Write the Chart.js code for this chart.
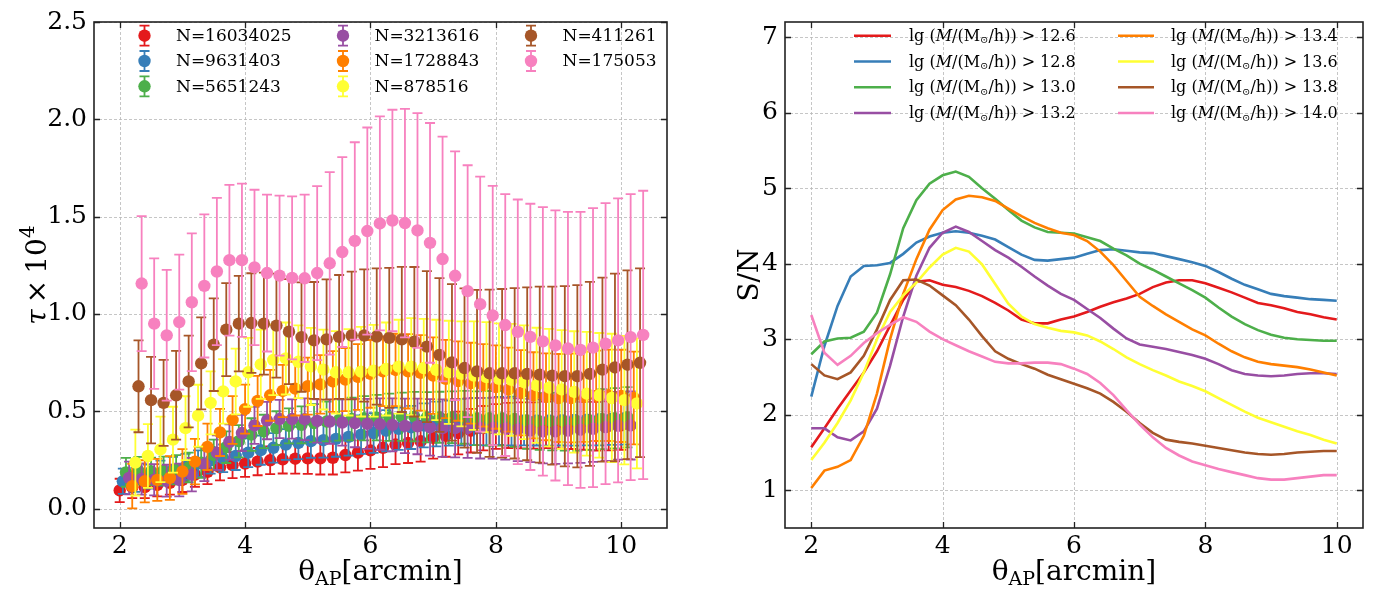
<!DOCTYPE html>
<html>
<head>
<meta charset="utf-8">
<script src="https://cdn.jsdelivr.net/npm/chart.js@4.4.1/dist/chart.umd.min.js"></script>
<style>
  body { margin: 0; background: #fff; }
  #canvas1 { position: absolute; left: 0; top: 0; }
  #canvas2 { position: absolute; left: 700px; top: 0; }
</style>
</head>
<body>
<canvas id="canvas1" width="700" height="593"></canvas>
<canvas id="canvas2" width="692" height="593"></canvas>
<script>
// Data
const theta = [2.0, 2.2, 2.4, 2.6, 2.8, 3.0, 3.2, 3.4, 3.6, 3.8, 4.0, 4.2, 4.4, 4.6, 4.8, 5.0, 5.2, 5.4, 5.6, 5.8,
  6.0, 6.2, 6.4, 6.6, 6.8, 7.0, 7.2, 7.4, 7.6, 7.8, 8.0, 8.2, 8.4, 8.6, 8.8, 9.0, 9.2, 9.4, 9.6, 9.8, 10.0];
const dodge = [0, 0.05, 0.10, 0.15, 0.20, 0.25, 0.30, 0.35]; // sideways shift of each sample on the left plot
const colors = ["#e41a1c", "#377eb8", "#4daf4a", "#984ea3", "#ff7f00", "#ffff33", "#a65628", "#f781bf"];
const nLabels = ["N=16034025", "N=9631403", "N=5651243", "N=3213616", "N=1728843", "N=878516", "N=411261", "N=175053"];
const massCuts = ["12.6", "12.8", "13.0", "13.2", "13.4", "13.6", "13.8", "14.0"];

// tau x 10^4 (left)
const tauRed = [0.093, 0.110, 0.110, 0.121, 0.132, 0.147, 0.174, 0.189, 0.211, 0.223, 0.231, 0.241, 0.248, 0.253, 0.256, 0.258, 0.258, 0.261, 0.275, 0.287,
  0.299, 0.312, 0.329, 0.337, 0.346, 0.363, 0.374, 0.388, 0.400, 0.413, 0.422, 0.427, 0.427, 0.427, 0.430, 0.430, 0.428, 0.425, 0.423, 0.425, 0.428];
const tauBlue = [0.140, 0.148, 0.164, 0.182, 0.199, 0.214, 0.231, 0.248, 0.258, 0.270, 0.287, 0.300, 0.312, 0.329, 0.337, 0.346, 0.351, 0.358, 0.368, 0.380,
  0.388, 0.400, 0.410, 0.417, 0.427, 0.434, 0.439, 0.444, 0.447, 0.447, 0.450, 0.450, 0.452, 0.452, 0.452, 0.454, 0.455, 0.457, 0.459, 0.462, 0.464];
const tauGreen = [0.186, 0.194, 0.191, 0.194, 0.199, 0.211, 0.236, 0.275, 0.315, 0.346, 0.380, 0.396, 0.413, 0.425, 0.430, 0.439, 0.447, 0.455, 0.460, 0.464,
  0.467, 0.469, 0.472, 0.472, 0.469, 0.469, 0.469, 0.469, 0.464, 0.464, 0.464, 0.460, 0.452, 0.447, 0.447, 0.447, 0.447, 0.452, 0.459, 0.464, 0.469];
const tauPurple = [0.157, 0.152, 0.148, 0.143, 0.147, 0.174, 0.228, 0.287, 0.342, 0.388, 0.427, 0.452, 0.460, 0.460, 0.459, 0.450, 0.447, 0.442, 0.439, 0.435,
  0.434, 0.430, 0.425, 0.422, 0.417, 0.413, 0.413, 0.413, 0.413, 0.413, 0.410, 0.405, 0.401, 0.396, 0.396, 0.400, 0.405, 0.410, 0.418, 0.425, 0.427];
const tauOrange = [0.115, 0.140, 0.147, 0.157, 0.190, 0.241, 0.317, 0.391, 0.455, 0.511, 0.553, 0.582, 0.604, 0.616, 0.629, 0.638, 0.653, 0.663, 0.676, 0.692,
  0.705, 0.712, 0.705, 0.697, 0.683, 0.666, 0.655, 0.644, 0.633, 0.624, 0.611, 0.595, 0.582, 0.574, 0.568, 0.568, 0.574, 0.579, 0.582, 0.579, 0.568];
const tauYellow = [0.236, 0.270, 0.304, 0.354, 0.413, 0.477, 0.543, 0.602, 0.653, 0.700, 0.741, 0.764, 0.771, 0.754, 0.730, 0.714, 0.700, 0.700, 0.703, 0.708,
  0.717, 0.729, 0.729, 0.722, 0.712, 0.700, 0.692, 0.683, 0.675, 0.666, 0.661, 0.649, 0.633, 0.621, 0.612, 0.599, 0.590, 0.582, 0.568, 0.557, 0.540];
const tauBrown = [0.628, 0.557, 0.543, 0.582, 0.653, 0.746, 0.842, 0.919, 0.950, 0.953, 0.950, 0.940, 0.909, 0.881, 0.864, 0.869, 0.882, 0.889, 0.889, 0.884,
  0.877, 0.869, 0.857, 0.832, 0.789, 0.751, 0.722, 0.705, 0.695, 0.695, 0.695, 0.692, 0.688, 0.683, 0.680, 0.680, 0.692, 0.714, 0.725, 0.739, 0.749];
const tauPink = [1.156, 0.950, 0.890, 0.958, 1.060, 1.144, 1.218, 1.276, 1.276, 1.239, 1.210, 1.197, 1.185, 1.183, 1.210, 1.260, 1.318, 1.375, 1.426, 1.465,
  1.480, 1.467, 1.429, 1.365, 1.282, 1.196, 1.117, 1.050, 0.992, 0.943, 0.908, 0.882, 0.859, 0.838, 0.822, 0.815, 0.827, 0.847, 0.864, 0.881, 0.892];

// error bars (half length)
const errRed = [0.060, 0.057, 0.057, 0.059, 0.061, 0.062, 0.063, 0.064, 0.066, 0.067, 0.068, 0.070, 0.071, 0.073, 0.077, 0.080, 0.083, 0.086, 0.089, 0.092,
  0.095, 0.099, 0.101, 0.103, 0.105, 0.107, 0.108, 0.110, 0.112, 0.114, 0.115, 0.116, 0.118, 0.119, 0.120, 0.121, 0.122, 0.123, 0.125, 0.126, 0.126];
const errBlue = [0.065, 0.062, 0.062, 0.064, 0.066, 0.067, 0.068, 0.069, 0.071, 0.072, 0.074, 0.075, 0.076, 0.079, 0.083, 0.086, 0.089, 0.092, 0.096, 0.099,
  0.102, 0.106, 0.109, 0.111, 0.113, 0.115, 0.116, 0.119, 0.121, 0.122, 0.123, 0.125, 0.127, 0.128, 0.129, 0.130, 0.132, 0.132, 0.134, 0.135, 0.136];
const errGreen = [0.074, 0.071, 0.071, 0.073, 0.075, 0.076, 0.078, 0.079, 0.081, 0.083, 0.084, 0.086, 0.087, 0.090, 0.095, 0.098, 0.102, 0.106, 0.110, 0.114,
  0.117, 0.121, 0.124, 0.127, 0.129, 0.131, 0.133, 0.136, 0.138, 0.140, 0.141, 0.143, 0.145, 0.146, 0.148, 0.149, 0.151, 0.151, 0.154, 0.155, 0.155];
const errPurple = [0.084, 0.080, 0.080, 0.082, 0.084, 0.086, 0.087, 0.089, 0.091, 0.093, 0.095, 0.096, 0.098, 0.101, 0.107, 0.111, 0.114, 0.119, 0.124, 0.128,
  0.132, 0.136, 0.140, 0.143, 0.145, 0.148, 0.150, 0.153, 0.156, 0.157, 0.159, 0.161, 0.163, 0.164, 0.166, 0.168, 0.170, 0.170, 0.173, 0.174, 0.175];
const errOrange = [0.114, 0.108, 0.108, 0.112, 0.115, 0.117, 0.119, 0.121, 0.123, 0.126, 0.129, 0.131, 0.134, 0.138, 0.146, 0.150, 0.156, 0.162, 0.169, 0.174,
  0.179, 0.186, 0.191, 0.194, 0.197, 0.201, 0.204, 0.208, 0.212, 0.214, 0.216, 0.219, 0.221, 0.223, 0.226, 0.228, 0.231, 0.232, 0.235, 0.237, 0.238];
const errYellow = [0.169, 0.164, 0.168, 0.169, 0.164, 0.159, 0.162, 0.166, 0.169, 0.177, 0.178, 0.181, 0.185, 0.187, 0.198, 0.205, 0.212, 0.222, 0.230, 0.236,
  0.239, 0.241, 0.249, 0.253, 0.258, 0.265, 0.270, 0.279, 0.283, 0.285, 0.288, 0.292, 0.296, 0.302, 0.305, 0.312, 0.318, 0.320, 0.330, 0.330, 0.334];
const errBrown = [0.236, 0.222, 0.221, 0.228, 0.236, 0.236, 0.238, 0.239, 0.245, 0.256, 0.262, 0.267, 0.270, 0.281, 0.300, 0.309, 0.318, 0.328, 0.340, 0.350,
  0.360, 0.373, 0.384, 0.388, 0.395, 0.402, 0.409, 0.419, 0.430, 0.433, 0.438, 0.444, 0.452, 0.457, 0.463, 0.468, 0.473, 0.473, 0.482, 0.485, 0.485];
const errPink = [0.347, 0.335, 0.336, 0.347, 0.354, 0.368, 0.378, 0.387, 0.394, 0.399, 0.403, 0.411, 0.419, 0.430, 0.447, 0.469, 0.488, 0.507, 0.532, 0.550,
  0.569, 0.587, 0.603, 0.616, 0.629, 0.639, 0.647, 0.655, 0.666, 0.673, 0.680, 0.684, 0.690, 0.694, 0.702, 0.709, 0.717, 0.722, 0.730, 0.735, 0.741];

// S/N (right)
const snRed = [1.57, 1.82, 2.08, 2.32, 2.56, 2.84, 3.18, 3.52, 3.76, 3.78, 3.72, 3.69, 3.64, 3.57, 3.48, 3.38, 3.26, 3.21, 3.21, 3.26,
  3.30, 3.36, 3.43, 3.49, 3.54, 3.60, 3.69, 3.75, 3.78, 3.78, 3.74, 3.68, 3.62, 3.55, 3.48, 3.45, 3.41, 3.36, 3.33, 3.29, 3.26];
const snBlue = [2.24, 2.91, 3.44, 3.83, 3.97, 3.98, 4.01, 4.13, 4.28, 4.36, 4.41, 4.43, 4.41, 4.37, 4.32, 4.22, 4.12, 4.05, 4.04, 4.06,
  4.08, 4.13, 4.18, 4.19, 4.17, 4.15, 4.14, 4.10, 4.06, 4.02, 3.97, 3.89, 3.80, 3.72, 3.66, 3.60, 3.57, 3.55, 3.53, 3.52, 3.51];
const snGreen = [2.80, 2.97, 3.01, 3.02, 3.10, 3.35, 3.86, 4.47, 4.84, 5.06, 5.17, 5.22, 5.15, 5.00, 4.86, 4.71, 4.57, 4.48, 4.42, 4.41,
  4.40, 4.35, 4.30, 4.20, 4.11, 4.00, 3.92, 3.83, 3.74, 3.65, 3.55, 3.42, 3.30, 3.20, 3.12, 3.06, 3.02, 3.00, 2.99, 2.98, 2.98];
const snPurple = [1.82, 1.82, 1.70, 1.66, 1.78, 2.08, 2.65, 3.30, 3.84, 4.21, 4.41, 4.49, 4.42, 4.30, 4.18, 4.08, 3.96, 3.83, 3.71, 3.60,
  3.52, 3.40, 3.28, 3.14, 3.01, 2.93, 2.90, 2.87, 2.83, 2.79, 2.74, 2.67, 2.59, 2.54, 2.52, 2.51, 2.52, 2.54, 2.55, 2.55, 2.54];
const snOrange = [1.03, 1.26, 1.31, 1.40, 1.72, 2.28, 3.00, 3.60, 4.06, 4.45, 4.71, 4.85, 4.90, 4.88, 4.83, 4.73, 4.63, 4.54, 4.47, 4.41,
  4.38, 4.30, 4.16, 3.98, 3.77, 3.56, 3.44, 3.33, 3.23, 3.13, 3.05, 2.94, 2.84, 2.76, 2.70, 2.67, 2.65, 2.63, 2.60, 2.56, 2.52];
const snYellow = [1.40, 1.63, 1.89, 2.19, 2.56, 3.00, 3.36, 3.58, 3.75, 3.95, 4.12, 4.21, 4.16, 3.99, 3.73, 3.47, 3.30, 3.20, 3.15, 3.11,
  3.09, 3.05, 2.97, 2.87, 2.76, 2.67, 2.59, 2.52, 2.44, 2.38, 2.31, 2.22, 2.13, 2.04, 1.96, 1.90, 1.84, 1.78, 1.73, 1.67, 1.62];
const snBrown = [2.67, 2.52, 2.47, 2.56, 2.78, 3.13, 3.52, 3.78, 3.79, 3.71, 3.58, 3.45, 3.26, 3.04, 2.84, 2.74, 2.67, 2.61, 2.53, 2.47,
  2.41, 2.35, 2.28, 2.17, 2.04, 1.89, 1.76, 1.67, 1.64, 1.62, 1.59, 1.56, 1.53, 1.50, 1.48, 1.47, 1.48, 1.50, 1.51, 1.52, 1.52];
const snPink = [3.32, 2.82, 2.66, 2.78, 2.95, 3.08, 3.19, 3.29, 3.23, 3.10, 3.00, 2.92, 2.84, 2.77, 2.70, 2.68, 2.68, 2.69, 2.69, 2.67,
  2.61, 2.54, 2.42, 2.26, 2.06, 1.87, 1.70, 1.56, 1.46, 1.38, 1.33, 1.28, 1.24, 1.20, 1.16, 1.14, 1.14, 1.16, 1.18, 1.20, 1.20];

const xTicks = [2, 4, 6, 8, 10];
const tauTicks = [0.0, 0.5, 1.0, 1.5, 2.0, 2.5];
const snTicks = [1, 2, 3, 4, 5, 6, 7];

const tauSeries = [tauRed, tauBlue, tauGreen, tauPurple, tauOrange, tauYellow, tauBrown, tauPink];
const errSeries = [errRed, errBlue, errGreen, errPurple, errOrange, errYellow, errBrown, errPink];
const snSeries = [snRed, snBlue, snGreen, snPurple, snOrange, snYellow, snBrown, snPink];

const FONT = "'DejaVu Serif'";

// grid, frame and inward ticks like matplotlib
const framePlugin = {
  id: 'frame',
  beforeDatasetsDraw(chart) {
    const { ctx, chartArea: a, scales: { x, y } } = chart;
    ctx.save();
    ctx.strokeStyle = '#b8b8b8';
    ctx.lineWidth = 0.8;
    ctx.setLineDash([3, 2]);
    x.ticks.forEach(t => {
      const px = Math.round(x.getPixelForValue(t.value)) + 0.5;
      ctx.beginPath(); ctx.moveTo(px, a.top); ctx.lineTo(px, a.bottom); ctx.stroke();
    });
    y.ticks.forEach(t => {
      const py = Math.round(y.getPixelForValue(t.value)) + 0.5;
      ctx.beginPath(); ctx.moveTo(a.left, py); ctx.lineTo(a.right, py); ctx.stroke();
    });
    ctx.restore();
  },
  afterDatasetsDraw(chart) {
    const { ctx, chartArea: a, scales: { x, y } } = chart;
    ctx.save();
    ctx.strokeStyle = '#222';
    ctx.lineWidth = 1.3;
    const tl = 6;
    x.ticks.forEach(t => {
      const px = Math.round(x.getPixelForValue(t.value)) + 0.5;
      ctx.beginPath();
      ctx.moveTo(px, a.bottom); ctx.lineTo(px, a.bottom - tl);
      ctx.moveTo(px, a.top); ctx.lineTo(px, a.top + tl);
      ctx.stroke();
    });
    y.ticks.forEach(t => {
      const py = Math.round(y.getPixelForValue(t.value)) + 0.5;
      ctx.beginPath();
      ctx.moveTo(a.left, py); ctx.lineTo(a.left + tl, py);
      ctx.moveTo(a.right, py); ctx.lineTo(a.right - tl, py);
      ctx.stroke();
    });
    ctx.lineWidth = 1.6;
    ctx.strokeRect(a.left, a.top, a.right - a.left, a.bottom - a.top);
    ctx.restore();
  }
};

// vertical error bars, drawn just before each dataset's markers
const errPlugin = {
  id: 'errbars',
  beforeDatasetDraw(chart, args) {
    const ds = chart.data.datasets[args.index];
    if (!ds.errors) return;
    const { ctx, chartArea: a, scales: { x, y } } = chart;
    ctx.save();
    ctx.beginPath(); ctx.rect(a.left, a.top, a.right - a.left, a.bottom - a.top); ctx.clip();
    ctx.strokeStyle = ds.backgroundColor;
    ctx.lineWidth = 1.8;
    ds.data.forEach((p, k) => {
      const px = x.getPixelForValue(p.x);
      const lo = y.getPixelForValue(p.y - ds.errors[k]);
      const hi = y.getPixelForValue(p.y + ds.errors[k]);
      ctx.beginPath();
      ctx.moveTo(px, lo); ctx.lineTo(px, hi);
      ctx.moveTo(px - 5, lo); ctx.lineTo(px + 5, lo);
      ctx.moveTo(px - 5, hi); ctx.lineTo(px + 5, hi);
      ctx.stroke();
    });
    ctx.restore();
  }
};

function xTitle(ctx, cx, base) {
  const big = '28px ' + FONT, small = '19px ' + FONT;
  ctx.font = big; const w1 = ctx.measureText('θ').width, w3 = ctx.measureText('[arcmin]').width;
  ctx.font = small; const w2 = ctx.measureText('AP').width;
  let x0 = cx - (w1 + w2 + w3) / 2;
  ctx.fillStyle = '#000'; ctx.textAlign = 'left'; ctx.textBaseline = 'alphabetic';
  ctx.font = big; ctx.fillText('θ', x0, base); x0 += w1;
  ctx.font = small; ctx.fillText('AP', x0, base + 5); x0 += w2;
  ctx.font = big; ctx.fillText('[arcmin]', x0, base);
}

const leftDecor = {
  id: 'leftDecor',
  afterDraw(chart) {
    const { ctx, chartArea: a } = chart;
    ctx.save();
    xTitle(ctx, (a.left + a.right) / 2, 580);
    // y title: tau x 10^4
    ctx.translate(46, (a.top + a.bottom) / 2);
    ctx.rotate(-Math.PI / 2);
    const p1 = 'italic 28px ' + FONT, p2 = '28px ' + FONT, p3 = '20px ' + FONT;
    const parts = [['τ', p1, 0, 6], ['×', p2, 0, 6], ['10', p2, 0, 0], ['4', p3, -12, 0]];
    let total = 0;
    parts.forEach(([s, f, dy, gap]) => { ctx.font = f; total += ctx.measureText(s).width + gap; });
    let x0 = -total / 2;
    ctx.fillStyle = '#000'; ctx.textBaseline = 'alphabetic'; ctx.textAlign = 'left';
    parts.forEach(([s, f, dy, gap]) => { ctx.font = f; ctx.fillText(s, x0, dy); x0 += ctx.measureText(s).width + gap; });
    ctx.restore();

    // legend, column by column
    const colX = [144.5, 343, 531], rowY = [35.7, 61, 86.3];
    ctx.save();
    ctx.font = '17px ' + FONT; ctx.textBaseline = 'middle'; ctx.textAlign = 'left';
    nLabels.forEach((lbl, j) => {
      const mx = colX[Math.floor(j / 3)], my = rowY[j % 3];
      ctx.strokeStyle = colors[j]; ctx.lineWidth = 1.8;
      ctx.beginPath();
      ctx.moveTo(mx, my - 10); ctx.lineTo(mx, my + 10);
      ctx.moveTo(mx - 5, my - 10); ctx.lineTo(mx + 5, my - 10);
      ctx.moveTo(mx - 5, my + 10); ctx.lineTo(mx + 5, my + 10);
      ctx.stroke();
      ctx.fillStyle = colors[j];
      ctx.beginPath(); ctx.arc(mx, my, 6.2, 0, Math.PI * 2); ctx.fill();
      ctx.fillStyle = '#000';
      ctx.fillText(lbl, mx + 31.5, my + 1);
    });
    ctx.restore();
  }
};

const rightDecor = {
  id: 'rightDecor',
  afterDraw(chart) {
    const { ctx, chartArea: a } = chart;
    ctx.save();
    xTitle(ctx, (a.left + a.right) / 2, 580);
    ctx.translate(50, (a.top + a.bottom) / 2);
    ctx.rotate(-Math.PI / 2);
    ctx.font = '28px ' + FONT; ctx.fillStyle = '#000';
    ctx.textAlign = 'center'; ctx.textBaseline = 'alphabetic';
    ctx.fillText('S/N', 0, 8);
    ctx.restore();

    const lineX = [[154, 191], [418, 454]], textX = [209, 471], rowY = [35.7, 61.5, 87.3, 113];
    ctx.save();
    ctx.textBaseline = 'middle'; ctx.textAlign = 'left';
    massCuts.forEach((cut, j) => {
      const c = Math.floor(j / 4), y0 = rowY[j % 4];
      ctx.strokeStyle = colors[j]; ctx.lineWidth = 2.6;
      ctx.beginPath(); ctx.moveTo(lineX[c][0], y0); ctx.lineTo(lineX[c][1], y0); ctx.stroke();
      const parts = [['lg (', '16px ' + FONT, 0, 0], ['M', 'italic 16px ' + FONT, 0, 0], ['/(M', '16px ' + FONT, 0, 0],
        ['⊙', '10px ' + FONT, 4, 0], ['/h))', '16px ' + FONT, 0, 5], ['>', '16px ' + FONT, 0, 5], [cut, '16px ' + FONT, 0, 0]];
      let x0 = textX[c];
      ctx.fillStyle = '#000';
      parts.forEach(([s, f, dy, gap]) => {
        ctx.font = f; ctx.fillText(s, x0, y0 + 1 + dy); x0 += ctx.measureText(s).width + gap;
      });
    });
    ctx.restore();
  }
};

function axes(xmin, xmax, ymin, ymax, yTicks, yWidth, yFmt) {
  const tickFont = { family: FONT, size: 25 };
  return {
    x: {
      type: 'linear', min: xmin, max: xmax,
      afterBuildTicks: s => { s.ticks = xTicks.map(v => ({ value: v })); },
      afterFit: s => { s.height = 65; },
      grid: { display: false, drawTicks: false },
      border: { display: false },
      ticks: { font: tickFont, color: '#000', padding: 3, maxRotation: 0, autoSkip: false, callback: v => String(v) }
    },
    y: {
      type: 'linear', min: ymin, max: ymax,
      afterBuildTicks: s => { s.ticks = yTicks.map(v => ({ value: v })); },
      afterFit: s => { s.width = yWidth; },
      grid: { display: false, drawTicks: false },
      border: { display: false },
      ticks: { font: tickFont, color: '#000', padding: 7, autoSkip: false, callback: yFmt }
    }
  };
}

// Left: tau with error bars
let myChart1 = document.querySelector("#canvas1").getContext("2d");
let tauChart = new Chart(myChart1, {
  type: 'scatter',
  data: {
    datasets: tauSeries.map((vals, i) => ({
      label: nLabels[i],
      data: vals.map((v, k) => ({ x: theta[k] + dodge[i], y: v })),
      errors: errSeries[i],
      backgroundColor: colors[i],
      borderColor: colors[i],
      pointRadius: 6.2,
      pointHoverRadius: 6.2,
      pointBorderWidth: 0,
      order: 8 - i
    }))
  },
  options: {
    responsive: false,
    devicePixelRatio: 1,
    animation: false,
    events: [],
    layout: { padding: { left: 0, top: 14, right: 33, bottom: 0 } },
    scales: axes(1.59, 10.73, -0.1, 2.5, tauTicks, 94, v => v.toFixed(1)),
    plugins: { legend: { display: false }, tooltip: { enabled: false } }
  },
  plugins: [framePlugin, errPlugin, leftDecor]
});

// Right: S/N curves
let myChart2 = document.querySelector("#canvas2").getContext("2d");
let snChart = new Chart(myChart2, {
  type: 'line',
  data: {
    datasets: snSeries.map((vals, i) => ({
      label: massCuts[i],
      data: vals.map((v, k) => ({ x: theta[k], y: v })),
      borderColor: colors[i],
      backgroundColor: colors[i],
      borderWidth: 2.6,
      pointRadius: 0,
      tension: 0,
      fill: false,
      order: 8 - i
    }))
  },
  options: {
    responsive: false,
    devicePixelRatio: 1,
    animation: false,
    events: [],
    layout: { padding: { left: 0, top: 14, right: 29, bottom: 0 } },
    scales: axes(1.6, 10.4, 0.5, 7.2, snTicks, 85, v => String(v)),
    plugins: { legend: { display: false }, tooltip: { enabled: false } }
  },
  plugins: [framePlugin, rightDecor]
});
</script>
</body>
</html>
